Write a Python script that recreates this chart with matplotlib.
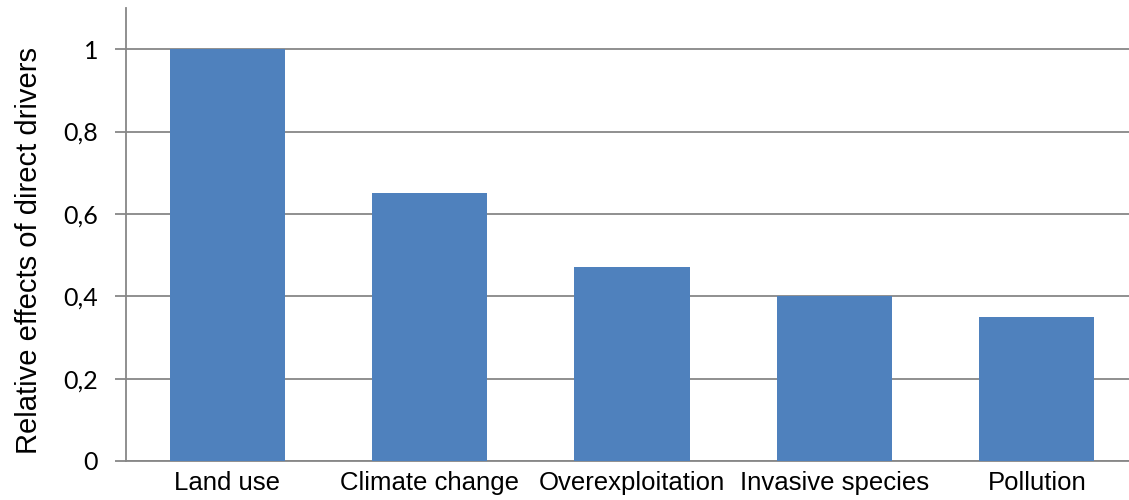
import matplotlib
matplotlib.use("Agg")
import matplotlib.pyplot as plt

categories = ["Land use", "Climate change", "Overexploitation", "Invasive species", "Pollution"]
values = [1.0, 0.65, 0.47, 0.40, 0.35]
yticks = [0, 0.2, 0.4, 0.6, 0.8, 1.0]
ytick_labels = ["0", "0,2", "0,4", "0,6", "0,8", "1"]

plt.rcParams["font.family"] = ["Liberation Sans", "DejaVu Sans"]

fig = plt.figure(figsize=(11.29, 5.0), dpi=100)
ax = fig.add_axes([126 / 1129, 39 / 500, 1003 / 1129, 453 / 500])

grid_col = "#878787"
ax.bar(range(len(categories)), values, width=0.57, color="#4F81BD", zorder=3)

ax.set_xlim(-0.5, 4.5 - 9 / 202.4)
ax.set_ylim(0, 1.1)
ax.set_yticks(yticks)
ax.set_yticklabels(ytick_labels, family=["Lato", "DejaVu Sans"])
ax.set_xticks(range(len(categories)))
ax.set_xticklabels(categories)

ax.grid(axis="y", color=grid_col, linewidth=1.3, zorder=0)
for s in ["top", "right"]:
    ax.spines[s].set_visible(False)
for s in ["left", "bottom"]:
    ax.spines[s].set_color(grid_col)
    ax.spines[s].set_linewidth(1.3)

ax.tick_params(axis="y", length=8, width=1.3, color=grid_col, pad=12, labelsize=18)
ax.tick_params(axis="x", length=0, pad=7, labelsize=18.5)
fig.text(29 / 1129, 0.5, "Relative effects of direct drivers", rotation=90,
         ha="center", va="center", fontsize=21)

fig.savefig("out.png", dpi=100)
